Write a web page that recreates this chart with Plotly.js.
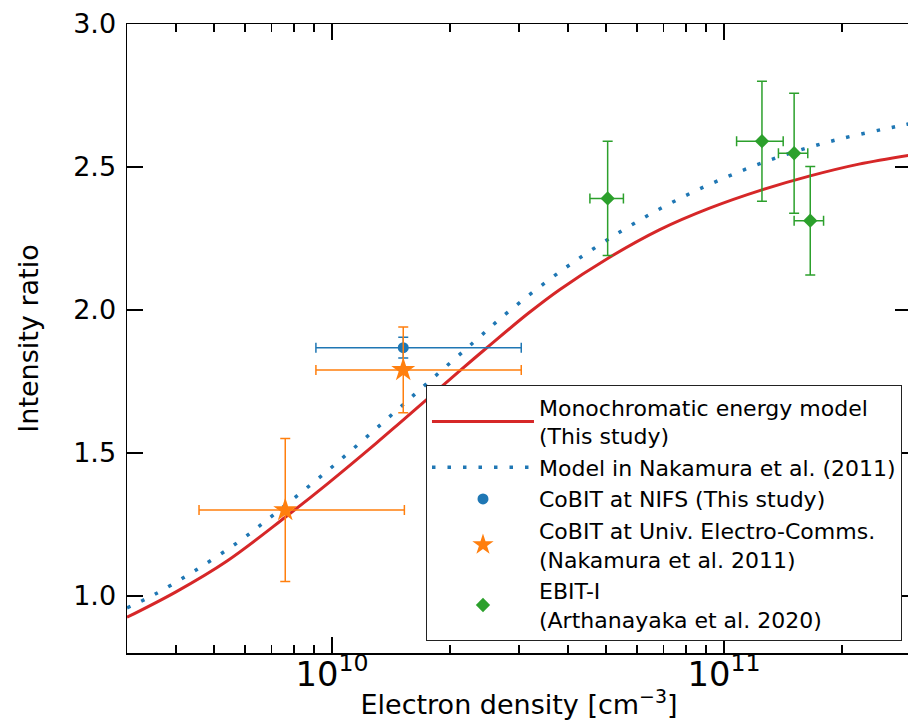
<!DOCTYPE html>
<html>
<head>
<meta charset="utf-8">
<script src="https://cdn.plot.ly/plotly-3.0.1.min.js"></script>
<style>
  html, body { margin: 0; padding: 0; overflow: hidden; background: #fff; }
  #chart { width: 920px; height: 720px; }
</style>
</head>
<body>
<div id="chart"></div>
<script>
// Monochromatic energy model (this study): density [cm^-3] vs intensity ratio
const monoDensity = [3.0e9, 4.0e9, 5.4e9, 7.6e9, 9.7e9, 1.3e10, 1.49e10, 2.11e10, 2.47e10, 3.18e10,
                     3.8e10, 5.05e10, 6.84e10, 9.19e10, 1.25e11, 1.65e11, 2.21e11, 3.0e11];
const monoRatio   = [0.925, 1.014, 1.122, 1.275, 1.390, 1.535, 1.605, 1.785, 1.865, 1.990,
                     2.070, 2.180, 2.280, 2.356, 2.420, 2.468, 2.510, 2.542];

// Model of Nakamura et al. (2011)
const nakDensity = [3.0e9, 3.52e9, 4.41e9, 5.79e9, 7.19e9, 9.93e9, 1.37e10, 1.77e10, 2.29e10, 2.81e10,
                    3.92e10, 5.57e10, 7.52e10, 1.02e11, 1.40e11, 1.95e11, 2.74e11, 3.0e11];
const nakRatio   = [0.958, 1.004, 1.083, 1.190, 1.290, 1.447, 1.614, 1.750, 1.885, 1.992,
                    2.145, 2.282, 2.382, 2.466, 2.538, 2.596, 2.641, 2.652];

// CoBIT at NIFS (this study)
const nifsDensity = [1.52e10];
const nifsDensityLow = [9.1e9];
const nifsDensityHigh = [3.04e10];
const nifsRatio = [1.868];
const nifsRatioErr = [0.036];

// CoBIT at Univ. Electro-Comms. (Nakamura et al. 2011)
const uecDensity = [7.6e9, 1.52e10];
const uecDensityLow = [4.58e9, 9.1e9];
const uecDensityHigh = [1.53e10, 3.04e10];
const uecRatio = [1.30, 1.79];
const uecRatioErr = [0.25, 0.15];

// EBIT-I (Arthanayaka et al. 2020)
const ebitDensity = [5.05e10, 1.25e11, 1.51e11, 1.66e11];
const ebitDensityLow = [4.55e10, 1.077e11, 1.377e11, 1.51e11];
const ebitDensityHigh = [5.54e10, 1.416e11, 1.636e11, 1.795e11];
const ebitRatio = [2.39, 2.59, 2.548, 2.312];
const ebitRatioErr = [0.20, 0.21, 0.21, 0.19];

const C_RED = '#d62728', C_BLUE = '#1f77b4', C_ORANGE = '#ff7f0e', C_GREEN = '#2ca02c';
const FONT = 'DejaVu Sans, Liberation Sans, sans-serif';

function xErr(x, lo, hi, color) {
  return {
    type: 'data', symmetric: false,
    array: x.map((v, i) => hi[i] - v),
    arrayminus: x.map((v, i) => v - lo[i]),
    color: color, thickness: 1.5, width: 5
  };
}
function yErr(err, color) {
  return { type: 'data', array: err, color: color, thickness: 1.5, width: 5 };
}

const traces = [
  {
    x: monoDensity, y: monoRatio, mode: 'lines', type: 'scatter',
    name: 'Monochromatic energy model<br>(This study)',
    line: { color: C_RED, width: 3, shape: 'spline', smoothing: 1 }
  },
  {
    x: nakDensity, y: nakRatio, mode: 'lines', type: 'scatter',
    name: 'Model in Nakamura et al. (2011)',
    line: { color: C_BLUE, width: 3.5, dash: '3.5px,12px', shape: 'spline', smoothing: 1 }
  },
  {
    x: nifsDensity, y: nifsRatio, mode: 'markers', type: 'scatter',
    name: 'CoBIT at NIFS (This study)',
    marker: { color: C_BLUE, symbol: 'circle', size: 11 },
    error_x: xErr(nifsDensity, nifsDensityLow, nifsDensityHigh, C_BLUE),
    error_y: yErr(nifsRatioErr, C_BLUE)
  },
  {
    x: uecDensity, y: uecRatio, mode: 'markers', type: 'scatter',
    name: 'CoBIT at Univ. Electro-Comms.<br>(Nakamura et al. 2011)',
    marker: { color: C_ORANGE, symbol: 'star', size: 18 },
    error_x: xErr(uecDensity, uecDensityLow, uecDensityHigh, C_ORANGE),
    error_y: yErr(uecRatioErr, C_ORANGE)
  },
  {
    x: ebitDensity, y: ebitRatio, mode: 'markers', type: 'scatter',
    name: 'EBIT-I<br>(Arthanayaka et al. 2020)',
    marker: { color: C_GREEN, symbol: 'diamond', size: 11 },
    error_x: xErr(ebitDensity, ebitDensityLow, ebitDensityHigh, C_GREEN),
    error_y: yErr(ebitRatioErr, C_GREEN)
  }
];

const layout = {
  width: 920, height: 720,
  margin: { l: 127, r: 9, t: 24, b: 67 },
  paper_bgcolor: '#fff', plot_bgcolor: '#fff',
  font: { family: FONT, size: 27, color: '#000' },
  showlegend: true,
  xaxis: {
    type: 'log',
    range: [Math.log10(3e9), Math.log10(3e11)],
    dtick: 1,
    exponentformat: 'power',
    showgrid: false, zeroline: false,
    showline: true, linecolor: '#000', linewidth: 1.5, mirror: 'allticks',
    ticks: 'inside', ticklen: 16, tickwidth: 1.5, tickcolor: '#000',
    tickfont: { family: FONT, size: 27 },
    ticklabelstandoff: -8,
    minor: { ticks: 'inside', ticklen: 8, tickwidth: 1.2, tickcolor: '#000', dtick: 'D1', showgrid: false },
    title: { text: 'Electron density [cm<sup>−3</sup>]', font: { family: FONT, size: 27 }, standoff: 14 }
  },
  yaxis: {
    range: [0.8, 3.0],
    tick0: 1.0, dtick: 0.5, tickformat: '.1f',
    showgrid: false, zeroline: false,
    showline: true, linecolor: '#000', linewidth: 1.5, mirror: 'allticks',
    ticks: 'inside', ticklen: 16, tickwidth: 1.5, tickcolor: '#000',
    tickfont: { family: FONT, size: 27 },
    ticklabelstandoff: 4,
    title: { text: 'Intensity ratio', font: { family: FONT, size: 27 }, standoff: 26 }
  },
  legend: {
    x: 0.9885, y: 0.0186, xanchor: 'right', yanchor: 'bottom',
    bgcolor: '#fff', bordercolor: '#222', borderwidth: 1,
    font: { family: FONT, size: 22, color: '#000' },
    itemwidth: 102, valign: 'middle', tracegroupgap: 0
  }
};

Plotly.newPlot('chart', traces, layout, { staticPlot: true, displayModeBar: false });
</script>
</body>
</html>
